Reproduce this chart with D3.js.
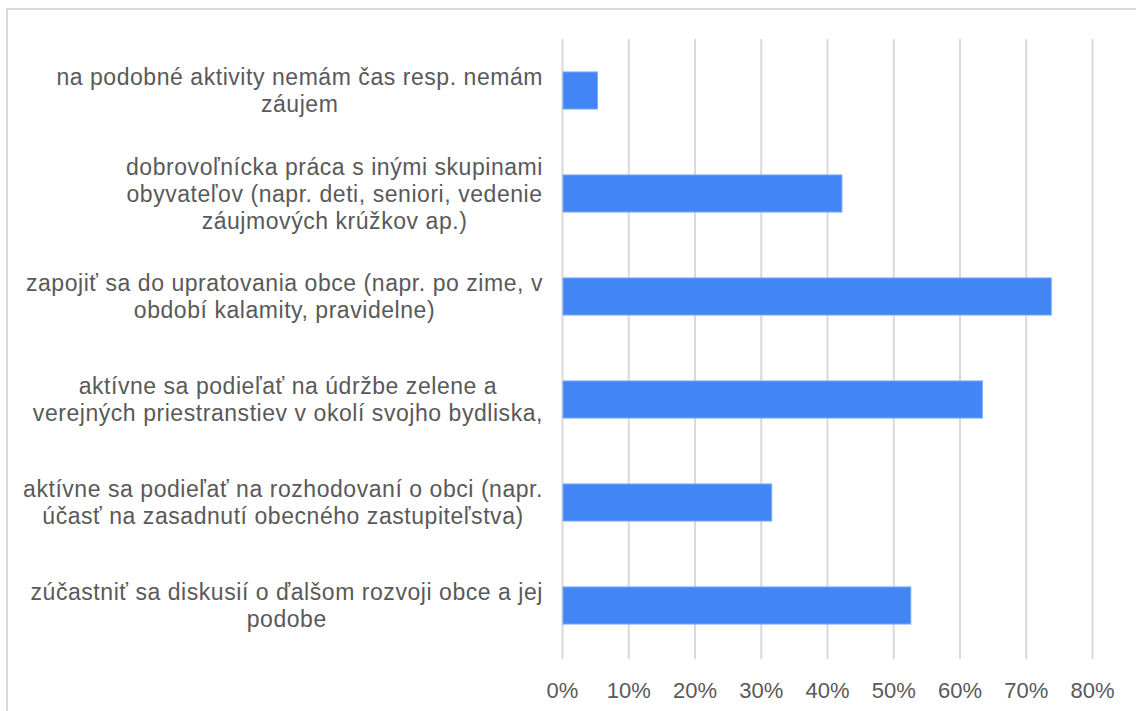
<!DOCTYPE html>
<meta charset="utf-8">
<style>
body { margin: 0; background: #fff; }
.grid line { stroke: #d9d9d9; stroke-width: 2px; }
.bar { fill: #4285f4; stroke: #7aa8f7; stroke-width: 1px; }
.label { font-family: "Liberation Sans", Arial, sans-serif; fill: #595959; }
</style>
<body>
<script src="https://cdn.jsdelivr.net/npm/d3@7"></script>
<script>
var width = 1136,
    height = 711;

// categories, top to bottom (line breaks as in the original chart)
var categories = [
  "na podobné aktivity nemám čas resp. nemám\nzáujem",
  "dobrovoľnícka práca s inými skupinami\nobyvateľov (napr. deti, seniori, vedenie\nzáujmových krúžkov ap.)",
  "zapojiť sa do upratovania obce (napr. po zime, v\nobdobí kalamity, pravidelne)",
  "aktívne sa podieľať na údržbe zelene a\nverejných priestranstiev v okolí svojho bydliska,",
  "aktívne sa podieľať na rozhodovaní o obci (napr.\núčasť na zasadnutí obecného zastupiteľstva)",
  "zúčastniť sa diskusií o ďalšom rozvoji obce a jej\npodobe"
];
var values = [0.052, 0.421, 0.737, 0.633, 0.315, 0.525];
var ticks = [0, 0.1, 0.2, 0.3, 0.4, 0.5, 0.6, 0.7, 0.8];

var x = d3.scaleLinear().domain([0, 0.8]).range([562.5, 1092.5]);
var y = d3.scaleBand().domain(categories).range([39, 657])
    .paddingInner(0.64).paddingOuter(0.32);

var svg = d3.select("body").append("svg")
    .attr("width", width)
    .attr("height", height);

// outer frame (right and bottom fall outside the picture)
svg.append("rect")
    .attr("x", 7).attr("y", 9)
    .attr("width", 1200).attr("height", 800)
    .attr("fill", "#fff")
    .attr("stroke", "#d9d9d9")
    .attr("stroke-width", 2);

svg.append("g")
    .attr("class", "grid")
    .selectAll("line")
    .data(ticks)
    .join("line")
    .attr("x1", d => x(d)).attr("x2", d => x(d))
    .attr("y1", 39).attr("y2", 659);

svg.append("g")
    .selectAll("rect")
    .data(values)
    .join("rect")
    .attr("class", "bar")
    .attr("x", x(0) + 0.5)
    .attr("y", (d, i) => y(categories[i]))
    .attr("width", d => x(d) - x(0))
    .attr("height", y.bandwidth());

// x tick labels
svg.append("g")
    .selectAll("text")
    .data(ticks)
    .join("text")
    .attr("class", "label")
    .attr("x", d => x(d))
    .attr("y", 698)
    .attr("text-anchor", "middle")
    .style("font-size", "22px")
    .text(d => d3.format(".0%")(d));

// category labels, block right aligned, lines centred
var lineH = 27;
var labels = svg.append("g")
    .selectAll("text")
    .data(categories)
    .join("text")
    .attr("class", "label")
    .attr("text-anchor", "middle")
    .style("font-size", "23px")
    .style("letter-spacing", "0.55px");

labels.each(function(d) {
  var t = d3.select(this),
      lines = d.split("\n"),
      cy = y(d) + y.bandwidth() / 2,
      y0 = cy - (lines.length - 1) * lineH / 2 + 8;
  lines.forEach(function(l, i) {
    t.append("tspan").attr("y", y0 + i * lineH).text(l);
  });
  var w = d3.max(t.selectAll("tspan").nodes(), n => n.getComputedTextLength());
  t.selectAll("tspan").attr("x", 543 - w / 2);
});
</script>
</body>
